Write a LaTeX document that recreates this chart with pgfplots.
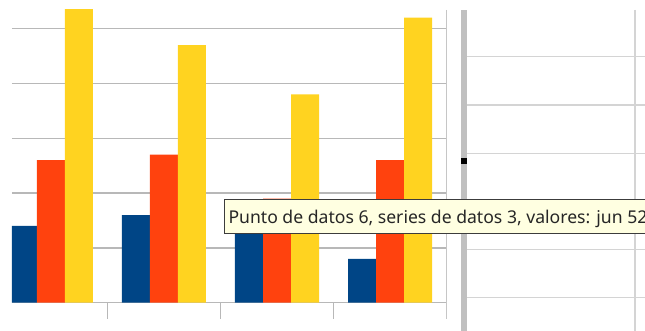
\documentclass[border=0pt]{standalone}
\usepackage{pgfplots}
\pgfplotsset{compat=1.18}
\usepackage{fontspec}
\newfontfamily\tipfont{Noto Sans}
\definecolor{sblue}{HTML}{004586}
\definecolor{sred}{HTML}{FF420E}
\definecolor{syellow}{HTML}{FFD320}
\definecolor{gridgray}{HTML}{B8B8B8}
\definecolor{sheetgray}{HTML}{D4D4D4}
\definecolor{bargray}{HTML}{C0C0C0}
\definecolor{tipbg}{HTML}{FFFFE1}
\definecolor{tipborder}{HTML}{3C3C3C}
\begin{document}
\begin{tikzpicture}
\path[use as bounding box] (0,0) rectangle (645pt,-331pt);
\clip (0,0) rectangle (645pt,-331pt);
\begin{axis}[
  at={(12pt,-302.7pt)}, anchor=south west,
  scale only axis, width=434.5pt, height=292.7pt,
  xmin=-0.345, xmax=3.5, ymin=0, ymax=53.41,
  axis x line*=bottom, axis y line*=left,
  x axis line style={-, draw=gridgray, line width=1.5pt},
  y axis line style={-, draw=none},
  xtick={0.5,1.5,2.5,3.5}, xticklabels={},
  tick align=outside,
  x tick style={draw=gridgray, line width=1.5pt},
  major tick length=16pt,
  ytick={10,20,30,40,50}, yticklabels={},
  y tick style={draw=none},
  ymajorgrids,
  major grid style={draw=gridgray, line width=1.5pt},
]
\addplot[ybar, bar width=28pt, bar shift=-28pt, fill=sblue, draw=none]
  coordinates {(0,14) (1,16) (2,13) (3,8)};
\addplot[ybar, bar width=28pt, bar shift=0pt, fill=sred, draw=none]
  coordinates {(0,26) (1,27) (2,19) (3,26)};
\addplot[ybar, bar width=28pt, bar shift=28pt, fill=syellow, draw=none]
  coordinates {(0,58) (1,47) (2,38) (3,52)};
\end{axis}
% right border of chart
\draw[gridgray!80, line width=1.4pt] (446.6pt,-10pt) -- (446.6pt,-319pt);
% spreadsheet
\foreach \yy in {56.7,105,153.5,201.7,249.3,297.7}
  \draw[sheetgray, line width=1.1pt] (466.5pt,-\yy pt) -- (645pt,-\yy pt);
\draw[sheetgray, line width=1.1pt] (635pt,-10pt) -- (635pt,-331pt);
\fill[bargray] (461pt,-10pt) rectangle (466.5pt,-331pt);
\fill[black] (461pt,-158pt) rectangle (467pt,-164.3pt);
% tooltip
\draw[fill=tipbg, draw=tipborder, line width=1pt] (224pt,-200pt) rectangle (680pt,-233.3pt);
\node[anchor=base west, inner sep=0pt, text=black!85] at (228.3pt,-223.5pt)
  {\tipfont\fontsize{17.6pt}{20pt}\selectfont Punto de datos 6, series de datos 3, valores: jun 52};
\end{tikzpicture}
\end{document}
